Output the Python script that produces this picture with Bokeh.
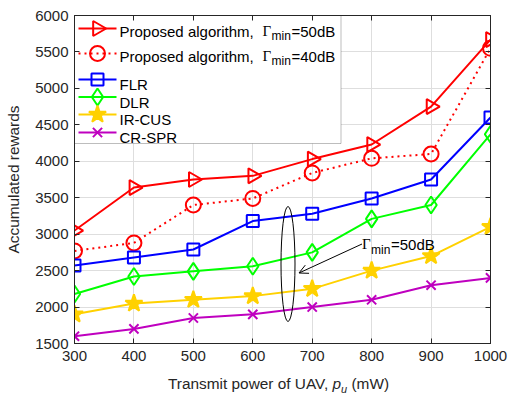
import numpy as np
from bokeh.plotting import figure
from bokeh.layouts import column
from bokeh.models import (FixedTicker, LinearAxis, Label, BoxAnnotation, Arrow, OpenHead,
                          Range1d, Div)
from bokeh.embed import file_html
from bokeh.resources import INLINE

# ---------------- data ----------------
power_mw = [300, 400, 500, 600, 700, 800, 900, 1000]
proposed_50db = [3050, 3640, 3750, 3800, 4030, 4230, 4750, 5670]
proposed_40db = [2770, 2880, 3400, 3490, 3840, 4040, 4100, 5550]
flr = [2570, 2680, 2790, 3180, 3280, 3490, 3750, 4600]
dlr = [2180, 2420, 2490, 2560, 2750, 3210, 3400, 4370]
ir_cus = [1900, 2050, 2100, 2150, 2250, 2500, 2700, 3100]
cr_spr = [1600, 1700, 1850, 1900, 2000, 2100, 2300, 2400]

x_ticks = [300, 400, 500, 600, 700, 800, 900, 1000]
y_ticks = [1500, 2000, 2500, 3000, 3500, 4000, 4500, 5000, 5500, 6000]

# ---------------- layout ----------------
W, H = 510, 373
FL, FT, FW, FH = 74, 15, 416, 328
X0, X1, Y0, Y1 = 300, 1000, 1500, 6000


def dx(px):  # canvas pixel x -> data x
    return X0 + (px - FL) / FW * (X1 - X0)


def dy(py):  # canvas pixel y -> data y
    return Y1 - (py - FT) / FH * (Y1 - Y0)


def sw(px):
    return px / FW * (X1 - X0)


def sh(px):
    return px / FH * (Y1 - Y0)


AX = "#262626"
SANS = "Liberation Sans"
SERIF = "Liberation Serif"

p = figure(width=W, height=H, x_range=Range1d(X0, X1), y_range=Range1d(Y0, Y1),
           output_backend="svg", toolbar_location=None,
           min_border_left=FL, min_border_right=W - FL - FW,
           min_border_top=FT, min_border_bottom=H - FT - FH)
p.background_fill_color = "white"
p.border_fill_color = "white"
p.outline_line_color = AX
p.outline_line_width = 1

p.xaxis.ticker = FixedTicker(ticks=x_ticks)
p.yaxis.ticker = FixedTicker(ticks=y_ticks)
p.xgrid.ticker = FixedTicker(ticks=x_ticks)
p.ygrid.ticker = FixedTicker(ticks=y_ticks)
for g in (p.xgrid, p.ygrid):
    g.grid_line_color = "#DEDEDE"
    g.grid_line_width = 1

for ax in list(p.xaxis) + list(p.yaxis):
    ax.major_tick_in = 5
    ax.major_tick_out = 0
    ax.minor_tick_in = 0
    ax.minor_tick_out = 0
    ax.axis_line_color = AX
    ax.major_tick_line_color = AX
    ax.major_label_text_color = AX
    ax.major_label_text_font = SANS
    ax.major_label_text_font_size = "15px"
p.yaxis.major_label_standoff = 6
p.xaxis.major_label_standoff = 7

p.yaxis.axis_label = "Accumulated rewards"
p.yaxis.axis_label_text_font = SANS
p.yaxis.axis_label_text_font_size = "15.4px"
p.yaxis.axis_label_text_font_style = "normal"
p.yaxis.axis_label_text_color = AX
p.yaxis.axis_label_standoff = 10

# box ticks on the right and top sides (no labels)
rax = LinearAxis(ticker=FixedTicker(ticks=y_ticks), major_tick_in=5, major_tick_out=0,
                 minor_tick_in=0, minor_tick_out=0, axis_line_color=AX, major_tick_line_color=AX,
                 major_label_overrides={t: "" for t in y_ticks},
                 major_label_text_font_size="1px", major_label_standoff=0)
p.add_layout(rax, "right")
tax = LinearAxis(ticker=FixedTicker(ticks=x_ticks), major_tick_in=5, major_tick_out=0,
                 minor_tick_in=0, minor_tick_out=0, axis_line_color=AX, major_tick_line_color=AX,
                 major_label_overrides={t: "" for t in x_ticks},
                 major_label_text_font_size="1px", major_label_standoff=0)
p.add_layout(tax, "above")

# ---------------- series ----------------
RED, BLUE, GREEN, GOLD, PURPLE = "#FF0000", "#0000FF", "#00FF00", "#FFD100", "#BF00BF"
series = [
    (proposed_50db, RED, "solid", dict(marker="triangle", angle=-np.pi / 2, size=15, fill_color=None)),
    (proposed_40db, RED, "2 4", dict(marker="circle", size=15, fill_color=None)),
    (flr, BLUE, "solid", dict(marker="square", size=12, fill_color=None)),
    (dlr, GREEN, "solid", dict(marker="diamond", size=17, fill_color=None)),
    (ir_cus, GOLD, "solid", dict(marker="star", size=18, fill_color=GOLD)),
    (cr_spr, PURPLE, "solid", dict(marker="x", size=13, fill_color=None)),
]
for vals, col, dash, mk in series:
    p.line(power_mw, vals, line_color=col, line_width=2, line_dash=dash)
    p.scatter(power_mw, vals, line_color=col, line_width=2, **mk)

# ---------------- legend (manual) ----------------
box = BoxAnnotation(left=dx(74), right=dx(340.5), top=dy(15), bottom=dy(143),
                    fill_color="white", fill_alpha=1, line_color=AX, line_width=1, level="underlay")
p.add_layout(box)

row_y = [28, 53, 79, 96.5, 114, 132]
names = ["Proposed algorithm,", "Proposed algorithm,", "FLR", "DLR", "IR-CUS", "CR-SPR"]
for (vals, col, dash, mk), ry, name in zip(series, row_y, names):
    p.line([dx(78), dx(116)], [dy(ry), dy(ry)], line_color=col, line_width=2, line_dash=dash)
    p.scatter([dx(97)], [dy(ry)], line_color=col, line_width=2, **mk)
    if name.startswith("Proposed"):
        base = ry + 2.5
    else:
        base = ry + 5.3
    p.add_layout(Label(x=dx(119), y=dy(base), text=name, text_font=SANS, text_font_size="15px",
                       text_baseline="alphabetic", text_align="left", text_color="black"))

for ry, lvl in zip(row_y[:2], ["=50dB", "=40dB"]):
    base = ry + 2.5
    p.add_layout(Label(x=dx(262), y=dy(base), text="Γ", text_font=SERIF, text_font_size="15px",
                       text_baseline="alphabetic", text_align="left", text_color="black"))
    p.add_layout(Label(x=dx(271), y=dy(base + 5), text="min", text_font=SANS, text_font_size="12px",
                       text_baseline="alphabetic", text_align="left", text_color="black"))
    p.add_layout(Label(x=dx(291), y=dy(base), text=lvl, text_font=SANS, text_font_size="15px",
                       text_baseline="alphabetic", text_align="left", text_color="black"))

# ---------------- annotation ----------------
p.ellipse(x=[dx(287.5)], y=[dy(263.5)], width=[sw(14)], height=[sh(115)],
          fill_color=None, line_color="black", line_width=1)
p.add_layout(Arrow(x_start=dx(361.5), y_start=dy(243.5), x_end=dx(298.5), y_end=dy(272.5),
                   line_color="black", line_width=1,
                   end=OpenHead(size=9, line_color="black", line_width=1)))
p.add_layout(Label(x=dx(361.5), y=dy(243.5), text="Γ", text_font=SERIF, text_font_size="15px",
                   text_baseline="alphabetic", text_align="left", text_color="black"))
p.add_layout(Label(x=dx(370.5), y=dy(249.5), text="min", text_font=SANS, text_font_size="12px",
                   text_baseline="alphabetic", text_align="left", text_color="black"))
p.add_layout(Label(x=dx(390.5), y=dy(243.5), text="=50dB", text_font=SANS, text_font_size="15px",
                   text_baseline="alphabetic", text_align="left", text_color="black"))

# ---------------- x-axis label (HTML, for italic p and subscript u) ----------------
xlabel = Div(
    text=('<div style="margin:0;padding:2px 0 0 168px;font-family:\'Liberation Sans\';'
          'font-size:15.4px;line-height:18px;color:#262626;white-space:nowrap">'
          'Transmit power of UAV, <i>p</i><span style="font-size:11px;font-style:italic;'
          'position:relative;top:4px">u</span> (mW)</div>'),
    width=W, height=24, styles={"margin": "0", "padding": "0"})

layout = column(p, xlabel, spacing=0)
open("out.html", "w").write(file_html(layout, INLINE))
